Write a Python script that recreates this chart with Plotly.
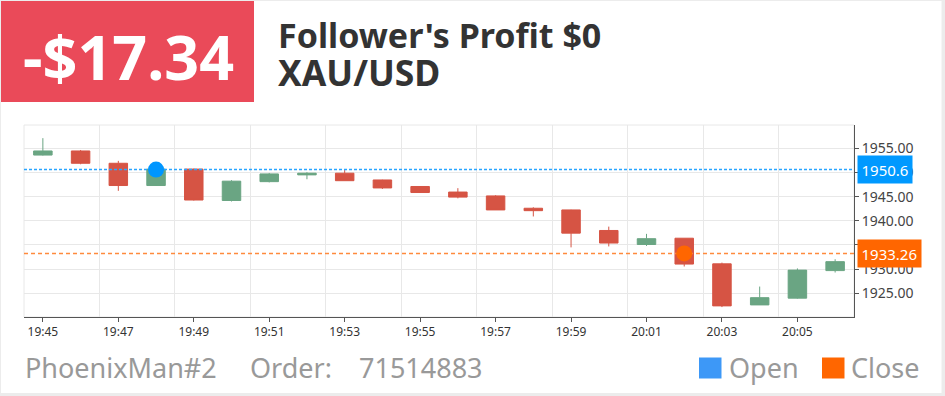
import plotly.graph_objects as go

# ---------------- data ----------------
DAY = "2023-07-20"
times = ["19:45", "19:46", "19:47", "19:48", "19:49", "19:50", "19:51", "19:52",
         "19:53", "19:54", "19:55", "19:56", "19:57", "19:58", "19:59", "20:00",
         "20:01", "20:02", "20:03", "20:04", "20:05", "20:06"]
opens = [1953.60, 1954.45, 1951.90, 1947.30, 1950.70, 1944.20, 1948.10, 1949.50,
         1949.85, 1948.45, 1947.10, 1945.95, 1945.15, 1942.60, 1942.25, 1938.00,
         1935.10, 1936.40, 1931.10, 1922.60, 1924.00, 1929.70]
highs = [1957.10, 1954.65, 1952.40, 1950.80, 1950.80, 1948.40, 1949.90, 1950.05,
         1950.50, 1948.50, 1947.20, 1946.75, 1945.30, 1942.80, 1942.30, 1938.80,
         1937.30, 1936.40, 1931.35, 1926.40, 1930.15, 1932.05]
lows = [1953.50, 1951.70, 1946.20, 1947.20, 1944.20, 1944.00, 1947.95, 1948.60,
        1948.30, 1946.60, 1945.80, 1944.65, 1942.25, 1940.90, 1934.50, 1934.70,
        1934.80, 1930.55, 1922.15, 1922.60, 1923.90, 1929.30]
closes = [1954.45, 1951.90, 1947.30, 1950.70, 1944.30, 1948.20, 1949.70, 1949.85,
          1948.30, 1946.80, 1945.85, 1944.90, 1942.25, 1942.10, 1937.45, 1935.40,
          1936.30, 1931.05, 1922.40, 1924.10, 1929.80, 1931.55]

open_time, open_price = "19:48", 1950.6
close_time, close_price = "20:02", 1933.26
open_label, close_label = "1950.6", "1933.26"

x_range = ["19:44:30", "20:06:30"]
y_range = [1920.1, 1959.82]
y_ticks = [1925, 1930, 1935, 1940, 1945, 1950, 1955]
x_tick_labels = ["19:45", "19:47", "19:49", "19:51", "19:53", "19:55",
                 "19:57", "19:59", "20:01", "20:03", "20:05"]

profit_text = "-$17.34"
title_line1 = "Follower's Profit $0"
title_line2 = "XAU/USD"
trader = "PhoenixMan#2"
order_label = "Order:"
order_no = "71514883"

# ---------------- style ----------------
W, H = 945, 396
PL, PR, PT, PB = 24, 854, 125, 317
GREEN = "#6aa583"
RED = "#d65444"
BLUE = "#0096ff"
ORANGE = "#ff6600"
GRID = "#e8e8e8"
AXIS = "#555555"
FONT = "Noto Sans"


def px_x(px):
    return (px - PL) / (PR - PL)


def px_y(py):
    return (PB - py) / (PB - PT)


def ts(t):
    return f"{DAY} {t}"


x = [ts(t) for t in times]
xr = [ts(t) for t in x_range]

fig = go.Figure()
fig.add_trace(go.Candlestick(
    x=x, open=opens, high=highs, low=lows, close=closes,
    increasing=dict(line=dict(color=GREEN, width=1), fillcolor=GREEN),
    decreasing=dict(line=dict(color=RED, width=1), fillcolor=RED),
    whiskerwidth=0, showlegend=False, hoverinfo="skip",
))
# open / close price lines (drawn above candles, below markers)
fig.add_trace(go.Scatter(
    x=xr, y=[open_price, open_price], mode="lines",
    line=dict(color="#2aa5ff", width=1.5, dash="3px,2px"),
    showlegend=False, hoverinfo="skip", cliponaxis=False))
fig.add_trace(go.Scatter(
    x=xr, y=[close_price, close_price], mode="lines",
    line=dict(color="#ff8a3d", width=1.5, dash="4px,3px"),
    showlegend=False, hoverinfo="skip", cliponaxis=False))
fig.add_trace(go.Scatter(
    x=[ts(open_time)], y=[open_price], mode="markers",
    marker=dict(color=BLUE, size=16), showlegend=False, hoverinfo="skip"))
fig.add_trace(go.Scatter(
    x=[ts(close_time)], y=[close_price], mode="markers",
    marker=dict(color=ORANGE, size=16), showlegend=False, hoverinfo="skip"))

shapes = [
    # white card
    dict(type="rect", xref="paper", yref="paper", layer="below",
         x0=px_x(1), x1=px_x(941.5), y0=px_y(393), y1=px_y(1),
         fillcolor="white", line=dict(width=0)),
    # red header box
    dict(type="rect", xref="paper", yref="paper", layer="below",
         x0=px_x(1), x1=px_x(254), y0=px_y(102), y1=px_y(1),
         fillcolor="#ea4a59", line=dict(width=0)),
    # plot frame
    dict(type="rect", xref="paper", yref="paper", layer="below",
         x0=0, x1=1, y0=0, y1=1, line=dict(color=GRID, width=1)),
    # legend squares
    dict(type="rect", xref="paper", yref="paper",
         x0=px_x(699), x1=px_x(721.5), y0=px_y(378.5), y1=px_y(357.5),
         fillcolor="#3d98f7", line=dict(width=0)),
    dict(type="rect", xref="paper", yref="paper",
         x0=px_x(822), x1=px_x(844.5), y0=px_y(378.5), y1=px_y(357.5),
         fillcolor=ORANGE, line=dict(width=0)),
]


def ann(text, px, py, size, color, bold=False, anchor="left"):
    return dict(text=f"<b>{text}</b>" if bold else text, xref="paper", yref="paper",
                x=px_x(px), y=px_y(py), xanchor=anchor, yanchor="middle",
                showarrow=False, font=dict(family=FONT, size=size, color=color))


annotations = [
    ann(profit_text, 21, 56, 61, "white", bold=True),
    ann(title_line1, 276, 35, 34, "#333333", bold=True),
    ann(title_line2, 276, 72, 35.5, "#333333", bold=True),
    ann(trader, 23, 367, 27, "#999999"),
    ann(order_label, 248, 367, 27, "#999999"),
    ann(order_no, 357, 367, 27, "#999999"),
    ann("Open", 727, 367, 27, "#999999"),
    ann("Close", 849, 367, 27, "#999999"),
    dict(text=open_label, xref="paper", yref="y", x=1, y=open_price, xshift=3,
         xanchor="left", yanchor="middle", showarrow=False, bgcolor="#0099ff",
         borderpad=3.5, font=dict(family=FONT, size=15, color="white")),
    dict(text=close_label, xref="paper", yref="y", x=1, y=close_price, xshift=3,
         xanchor="left", yanchor="middle", showarrow=False, bgcolor=ORANGE,
         borderpad=3.5, font=dict(family=FONT, size=15, color="white")),
]

fig.update_layout(
    width=W, height=H, autosize=False,
    margin=dict(l=PL, r=W - PR, t=PT, b=H - PB, pad=0),
    paper_bgcolor="#ececec", plot_bgcolor="white",
    shapes=shapes, annotations=annotations, showlegend=False,
    font=dict(family=FONT, color="#333333"),
    xaxis=dict(
        type="date", range=xr,
        rangeslider=dict(visible=False),
        tickmode="array", tickvals=[ts(t) for t in x_tick_labels], ticktext=x_tick_labels,
        ticks="outside", ticklen=4, tickcolor=AXIS,
        showline=True, linecolor=AXIS, linewidth=1, showgrid=False, zeroline=False,
        tickfont=dict(size=12, color="#333333"),
        minor=dict(tick0=xr[0], dtick=120000, showgrid=True,
                   gridcolor=GRID, gridwidth=1, ticks=""),
    ),
    yaxis=dict(
        side="right", range=y_range,
        tickmode="array", tickvals=y_ticks, tickformat=".2f",
        ticks="outside", ticklen=4, tickcolor=AXIS,
        showline=True, linecolor=AXIS, linewidth=1,
        showgrid=True, gridcolor=GRID, zeroline=False,
        tickfont=dict(size=14, color="#444444"),
    ),
)

fig.write_html("out.html")
